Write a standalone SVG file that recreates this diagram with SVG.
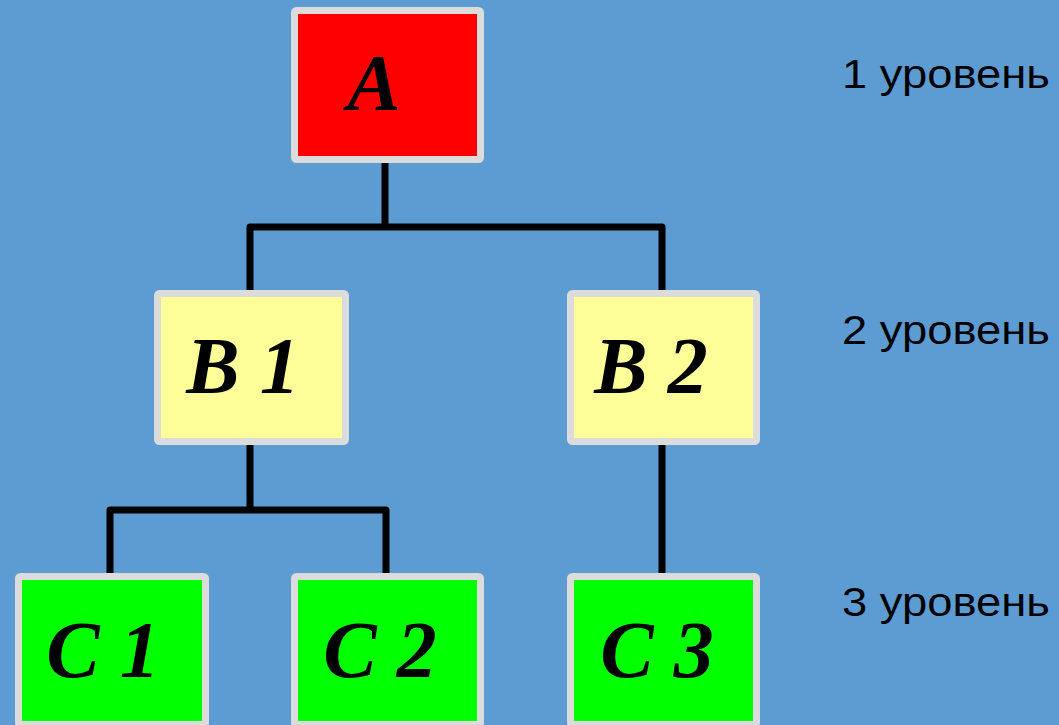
<svg xmlns="http://www.w3.org/2000/svg" width="1059" height="725" viewBox="0 0 1059 725">
  <style>
    .box { stroke: #dcdcdc; stroke-width: 7; }
    .red { fill: #ff0000; }
    .yel { fill: #ffff99; }
    .grn { fill: #00ff00; }
    .nt { font-family: "Liberation Serif", "Times New Roman", serif; font-weight: bold; font-style: italic; font-size: 80px; fill: #000; text-anchor: middle; }
    .lv { font-family: "Liberation Sans", Arial, sans-serif; font-size: 40px; fill: #000; }
    .ln { fill: none; stroke: #000; stroke-width: 7; stroke-linejoin: round; }
  </style>
  <rect x="0" y="0" width="1059" height="725" fill="#5d9cd3"/>
  <g id="connectors">
    <path class="ln" d="M385 163 V227"/>
    <path class="ln" d="M250 290 V227 H662 V290"/>
    <path class="ln" d="M250 445 V510"/>
    <path class="ln" d="M110 573 V510 H386 V573"/>
    <path class="ln" d="M662 445 V573"/>
  </g>
  <g id="nodeA">
    <rect class="box red" x="294.5" y="10.5" width="186" height="149" rx="2"/>
    <text class="nt" x="374" y="110">A</text>
  </g>
  <g id="nodeB1">
    <rect class="box yel" x="157.5" y="293.5" width="188" height="148" rx="2"/>
    <text class="nt" x="243" y="393">B 1</text>
  </g>
  <g id="nodeB2">
    <rect class="box yel" x="570.5" y="293.5" width="186" height="148" rx="2"/>
    <text class="nt" x="651" y="393">B 2</text>
  </g>
  <g id="nodeC1">
    <rect class="box grn" x="18.5" y="576.5" width="187" height="148" rx="2"/>
    <text class="nt" x="103" y="677">C 1</text>
  </g>
  <g id="nodeC2">
    <rect class="box grn" x="294.5" y="576.5" width="186" height="148" rx="2"/>
    <text class="nt" x="380" y="677">C 2</text>
  </g>
  <g id="nodeC3">
    <rect class="box grn" x="570.5" y="576.5" width="186" height="148" rx="2"/>
    <text class="nt" x="657" y="677">C 3</text>
  </g>
  <g id="levels">
    <text class="lv" x="842" y="88" textLength="208" lengthAdjust="spacingAndGlyphs">1 уровень</text>
    <text class="lv" x="842" y="344" textLength="208" lengthAdjust="spacingAndGlyphs">2 уровень</text>
    <text class="lv" x="842" y="616" textLength="208" lengthAdjust="spacingAndGlyphs">3 уровень</text>
  </g>
</svg>
